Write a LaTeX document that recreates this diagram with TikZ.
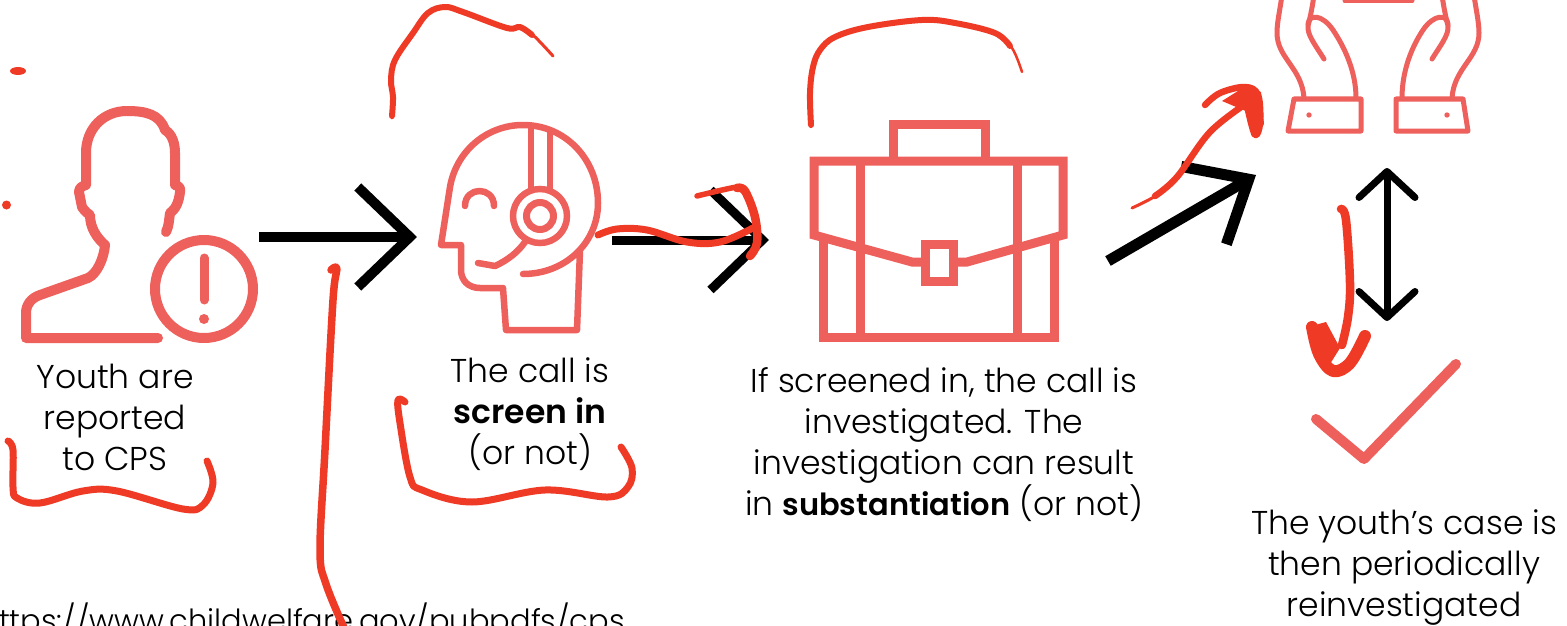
\documentclass[tikz,border=0pt]{standalone}
\usepackage{fontspec}
\setmainfont{Poppins}[UprightFont={* Light},BoldFont={* SemiBold}]
\usetikzlibrary{arrows.meta}
\definecolor{coral}{HTML}{EE605C}
\definecolor{pen}{HTML}{EF3A25}
\newcommand{\tightbold}[1]{{\fontsize{30.5}{41}\selectfont\textbf{#1}}}
\tikzset{
  icon/.style={draw=coral,line width=#1,line join=round,line cap=round},
  icon/.default=7pt,
  squareicon/.style={draw=coral,line width=9pt,line join=miter,line cap=butt},
  scribble/.style={draw=pen,line width=#1,line cap=round,line join=round},
  scribble/.default=5pt,
  label/.style={align=center,font=\fontsize{33}{41}\selectfont,inner sep=0pt,anchor=north,text=black},
  bigarrow/.style={draw=black,line width=#1,-{Straight Barb[length=52pt,width=100pt,line width=#1]}},
}
\begin{document}
\begin{tikzpicture}[x=1pt,y=-1pt]
\useasboundingbox (0,0) rectangle (1567,626);
\clip (0,0) rectangle (1567,626);
\fill[white] (0,0) rectangle (1567,626);
% named connector ends
\coordinate (r1) at (259,237);\coordinate (s1) at (417,237);
\coordinate (r2) at (612,240);\coordinate (s2) at (769,240);
\coordinate (r3) at (1108,261);\coordinate (s3) at (1256,175);
\coordinate (u4) at (1387,168);\coordinate (d4) at (1387,321);
% person
\draw[icon=10pt] (158,338) -- (26,338) -- (26,313) .. controls (26,305) and (31,298) .. (40,295) -- (88,278)
  .. controls (97,274) and (104,258) .. (105,245) .. controls (97,238) and (90,228) .. (90,215)
  .. controls (85,212) and (82,207) .. (82,207) -- (79,192) .. controls (79,188) and (82,186) .. (86,185)
  -- (86,153) .. controls (86,128) and (104,111) .. (127,111) .. controls (145,111) and (160,114) .. (165,130)
  .. controls (172,134) and (175,143) .. (175,153) -- (175,185) .. controls (179,186) and (181,188) .. (180,192)
  .. controls (179,200) and (177,208) .. (170,213) .. controls (169,220) and (169,226) .. (166,232);
\node[circle,draw=coral,line width=10pt,minimum size=98pt,inner sep=0pt] (alert) at (204,289) {};
\draw[icon=9pt] (204,258) -- (204,300);
\fill[coral] (204,319) circle (5pt);
% operator head
\draw[icon=6.5pt] (580,250) -- (577,330) -- (506,330) -- (503,288) -- (480,288)
  .. controls (468,288) and (461,280) .. (461,270) -- (461,245) -- (441,245) -- (450,187)
  .. controls (456,152) and (486,125) .. (523,125) .. controls (566,125) and (598,160) .. (598,203)
  .. controls (598,243) and (565,274) .. (523,274);
\draw[icon=6.5pt] (531,128) -- (531,190) (550,130) -- (550,190);
\node[circle,draw=coral,line width=6.5pt,minimum size=54pt,inner sep=0pt] (ear) at (540,216) {};
\node[circle,draw=coral,line width=7pt,minimum size=27pt,inner sep=0pt] (earin) at (540,216) {};
\draw[icon=6.5pt] (525,242) .. controls (518,252) and (508,260) .. (495,266) -- (478,263);
\draw[icon=6.5pt] (465,206) .. controls (465,186) and (494,186) .. (494,206);
% briefcase
\begin{scope}[every path/.append style={squareicon}]
\draw (893,161) -- (893,124) -- (985,124) -- (985,161);
\draw (925,262) -- (912,262) -- (814,235) -- (814,161) -- (1063,161) -- (1063,235) -- (967,262) -- (953,262);
\draw (925,244) rectangle (953,281);
\draw (823,238) -- (823,337) -- (1054,337) -- (1054,238);
\draw (860,161) -- (860,337) (1017,161) -- (1017,337);
\end{scope}
% hands
\draw[icon=5pt] (1282,-5) .. controls (1280,10) and (1277,22) .. (1277,33) .. controls (1277,58) and (1302,68) .. (1304,98);
\draw[icon=5pt] (1324,59) .. controls (1316,46) and (1307,35) .. (1308,26) .. controls (1309,22) and (1312,10) .. (1314,-5);
\draw[icon=5pt] (1308,24) .. controls (1309,14) and (1322,14) .. (1333,30) .. controls (1345,48) and (1356,72) .. (1356,98);
\draw[icon=5pt] (1474,-5) .. controls (1476,10) and (1479,22) .. (1479,33) .. controls (1479,58) and (1454,68) .. (1452,98);
\draw[icon=5pt] (1432,59) .. controls (1440,46) and (1449,35) .. (1448,26) .. controls (1447,22) and (1444,10) .. (1442,-5);
\draw[icon=5pt] (1448,24) .. controls (1447,14) and (1434,14) .. (1423,30) .. controls (1411,48) and (1402,72) .. (1402,98);
\draw[icon=5pt] (1294,99) -- (1361,99) -- (1361,131) -- (1288,131) -- cycle;
\draw[icon=5pt] (1396,99) -- (1463,99) -- (1468,131) -- (1396,131) -- cycle;
\fill[coral] (1309,115) circle (2.7pt) (1447,115) circle (2.7pt);
\draw[icon=5pt] (1345,1) -- (1412,1);
% check mark
\draw[icon=10pt] (1316,419) -- (1364,459) -- (1456,364);
% black arrows
\draw[bigarrow=10pt] (r1) -- (s1);
\draw[bigarrow=9pt] (r2) -- (s2);
\draw[draw=black,line width=11pt,-{Straight Barb[length=52pt,width=90pt,line width=11pt]}] (r3) -- (s3);
\draw[draw=black,line width=7pt,{Straight Barb[round,length=26pt,width=56pt,line width=7pt]}-{Straight Barb[round,length=26pt,width=56pt,line width=7pt]}] (u4) -- (d4);
% labels
\node[label] (t1) at (115,364) {Youth are\\reported\\to CPS};
\node[label] (t2) at (530,357) {The call is\\\textbf{screen in}\\(or not)};
\node[label] (t3) at (944,367) {If screened in, the call is\\investigated. The\\investigation can result\\in \tightbold{substantiation} (or not)};
\node[label] (t4) at (1404,509) {The youth’s case is\\then periodically\\reinvestigated};
\node[label,anchor=base east,font=\fontsize{30.5}{41}\selectfont] (url) at (625,631) {https://www.childwelfare.gov/pubpdfs/cps};
% red pen
\fill[pen] (18,71) ellipse (8pt and 4pt) (6.5,205) circle (4.5pt);
% head arc
\draw[scribble=3pt] plot[smooth,tension=.6] coordinates {(392,118)(393,97)(391,80)(395,60)(413,33)(428,13)(445,7)(463,12)(507,28)(520,27)(533,35)(553,56)};
\draw[scribble=6pt] plot[smooth,tension=.6] coordinates {(392,116)(393,97)(391,80)(395,60)(413,33)(428,13)(445,7)(463,12)(507,28)(520,27)(532,35)};
% case arc
\draw[scribble=2.5pt] plot[smooth,tension=.6] coordinates {(811,127)(810,93)(813,67)(820,50)(835,37)(868,27)(922,20)(955,23)(995,33)(1012,48)(1022,72)};
\draw[scribble=6pt] plot[smooth,tension=.6] coordinates {(811,125)(810,93)(813,67)(820,50)(835,37)(868,27)(922,20)(955,23)(995,33)(1010,46)};
% under-label brackets
\draw[scribble=7pt] plot[smooth,tension=.6] coordinates {(8,441)(13,450)(13,487)(17,498)(40,503)(83,491)(117,491)(183,509)(203,505)(213,483)(207,461)};
\draw[scribble=7pt] plot[smooth,tension=.6] coordinates {(405,402)(398,400)(400,423)(410,477)(422,490)(472,502)(545,490)(608,497)(628,487)(632,468)(621,447)};
% long stroke
\draw[scribble=7.5pt] plot[smooth,tension=.6] coordinates {(331,270)(337,269)(333,300)(325,450)(320,550)(326,584)(345,630)};
% over the second arrow
\draw[scribble=7pt] plot[smooth,tension=.6] coordinates {(598,235)(617,229)(647,230)(687,242)(720,242)(753,228)};
\draw[scribble=5.5pt] plot[smooth,tension=.6] coordinates {(697,196)(737,187)(745,190)};
\draw[scribble=8.5pt] plot[smooth,tension=.6] coordinates {(737,188)(745,191)(755,217)(757,243)(750,256)};
% over the third arrow
\draw[scribble=3pt] plot[smooth,tension=.6] coordinates {(1132,208)(1157,195)(1177,177)};
\draw[scribble=6.5pt] plot[smooth,tension=.6] coordinates {(1155,196)(1177,177)(1210,132)(1247,103)};
\draw[scribble=6.5pt] plot[smooth,tension=.6] coordinates {(1205,105)(1220,93)(1245,87)(1258,95)(1260,123)(1255,135)(1248,110)};
\fill[pen] (1222,101) -- (1246,86) -- (1261,92) -- (1264,124) -- (1256,138) -- (1248,112) -- cycle;
% down stroke
\draw[scribble=8.5pt] plot[smooth,tension=.6] coordinates {(1341,209)(1346,220)(1350,283)(1348,317)(1342,345)};
\draw[scribble=12pt] plot[smooth,tension=.6] coordinates {(1312,327)(1319,354)(1333,371)(1350,363)(1365,336)};
\fill[pen] (1315,325) -- (1326,322) -- (1340,348) -- (1330,364) -- (1318,355) -- cycle;
\end{tikzpicture}
\end{document}
